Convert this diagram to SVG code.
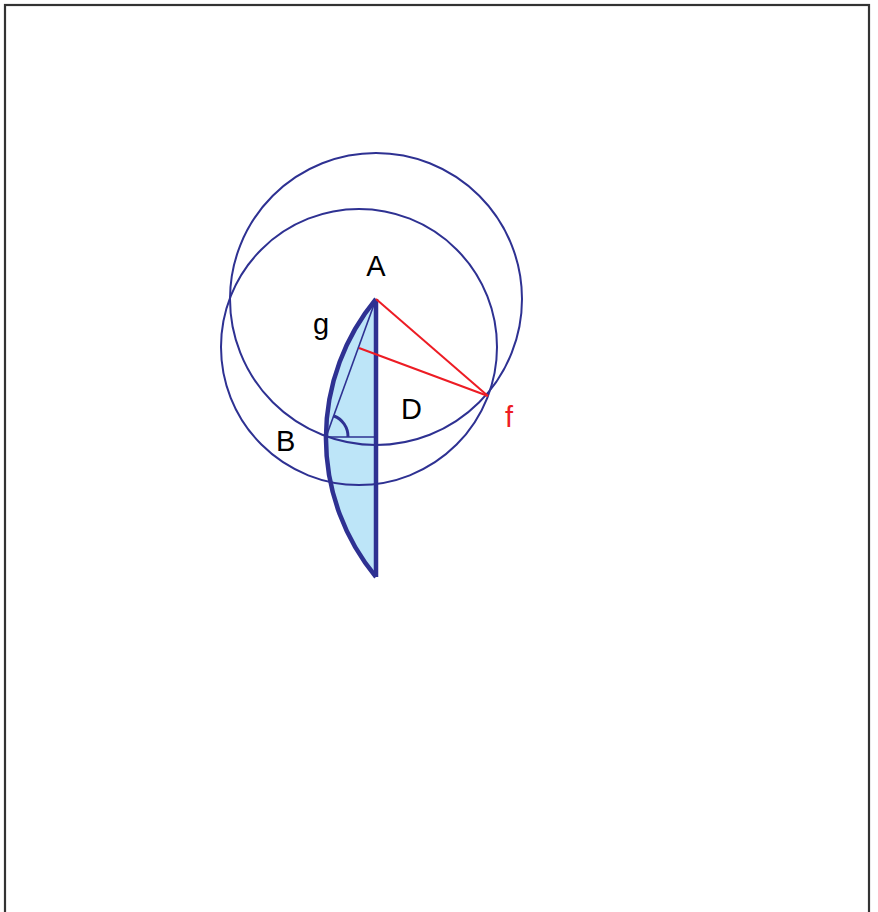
<svg xmlns="http://www.w3.org/2000/svg" width="878" height="912" viewBox="0 0 878 912">
<style>
.c{fill:none;stroke:#2e3192;stroke-width:2}
.t{fill:none;stroke:#2e3192;stroke-width:1.6}
.k{fill:none;stroke:#2e3192;stroke-width:4.5;stroke-linejoin:round}
.r{fill:none;stroke:#ed1c24;stroke-width:2}
.l{font-family:"Liberation Sans",Arial,sans-serif;font-size:29px;fill:#000}
</style>
<rect x="5" y="5" width="864" height="920" fill="#fff" stroke="#333" stroke-width="2.2"/>
<g id="lens">
<path d="M376,299 A218,218 0 0 0 376,577 Z" fill="#bde5f8" stroke="none"/>
<path class="k" d="M376,299 A218,218 0 0 0 376,577"/>
<line class="k" x1="376" y1="299" x2="376" y2="577"/>
</g>
<g id="circles">
<circle class="c" cx="376" cy="299" r="146"/>
<circle class="c" cx="359" cy="347" r="138"/>
</g>
<g id="connectors">
<line class="t" x1="326" y1="437" x2="376" y2="299"/>
<line class="t" x1="326" y1="437" x2="376" y2="437"/>
<path d="M334,416 A22,22 0 0 1 348,437" fill="none" stroke="#2e3192" stroke-width="3"/>
<line class="r" x1="376" y1="299" x2="488" y2="396"/>
<line class="r" x1="359" y1="348" x2="488" y2="396"/>
</g>
<g id="labels">
<text class="l" x="376" y="276" text-anchor="middle">A</text>
<text class="l" x="313" y="334">g</text>
<text class="l" x="401" y="419">D</text>
<text class="l" x="276" y="451">B</text>
<text class="l" x="505" y="427" style="fill:#ed1c24">f</text>
</g>
</svg>
